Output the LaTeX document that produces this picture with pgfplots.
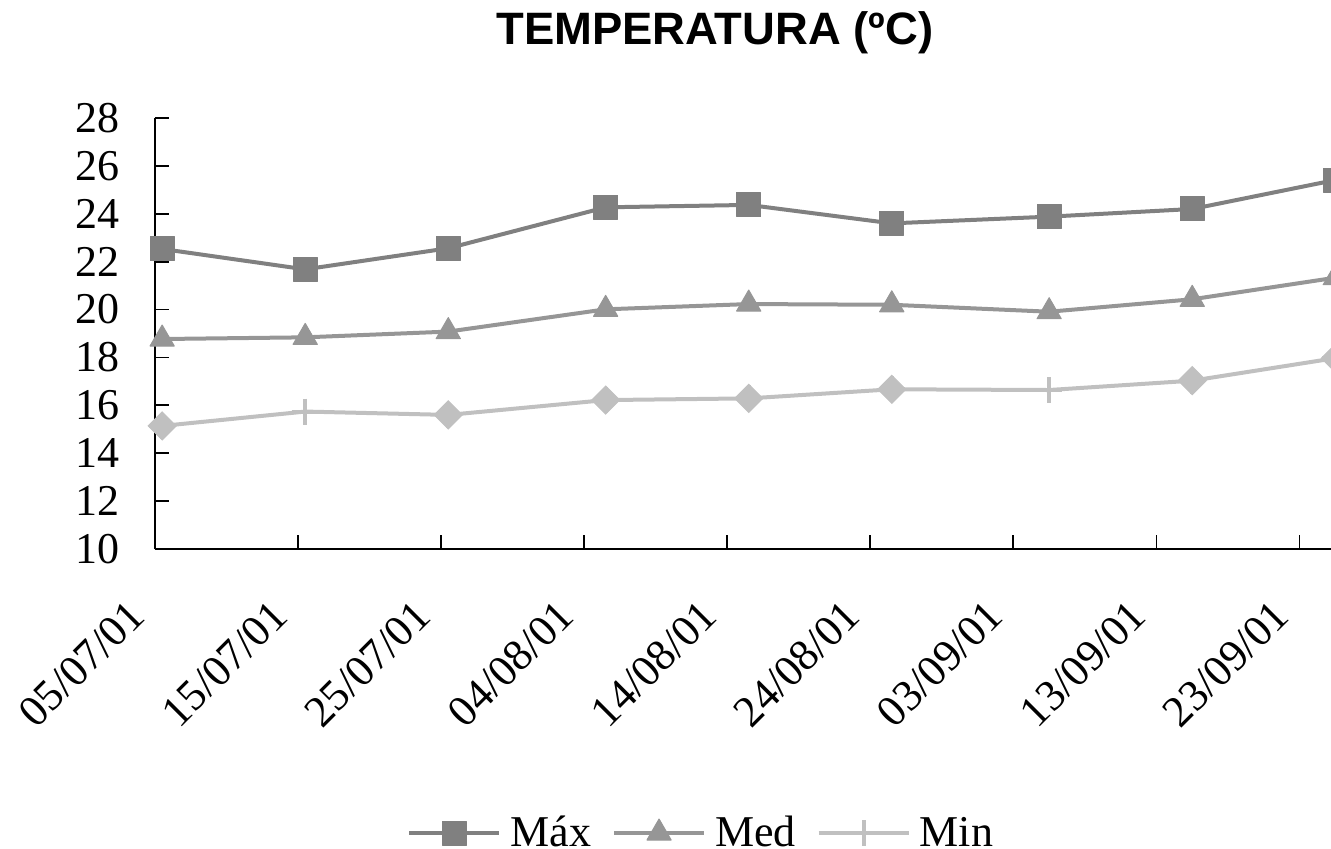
\documentclass[border=0pt]{standalone}
\usepackage{fontspec}
\setmainfont{Liberation Serif}
\newfontfamily\titlefont{Liberation Sans}
\usepackage{pgfplots}
\pgfplotsset{compat=1.18}
\definecolor{cmax}{RGB}{128,128,128}
\definecolor{cmed}{RGB}{150,150,150}
\definecolor{cmin}{RGB}{192,192,192}
\begin{document}
\begin{tikzpicture}
\begin{axis}[
  scale only axis,
  width=588pt, height=215.5pt,
  xmin=0, xmax=82.2, ymin=10, ymax=28,
  clip=false,
  axis x line=bottom, axis y line=left,
  axis line style={-, line width=1pt, black},
  tick align=inside,
  major tick length=7pt,
  tick style={line width=0.9pt, black},
  xtick={0,10,20,30,40,50,60,70,80},
  xticklabels={05/07/01,15/07/01,25/07/01,04/08/01,14/08/01,24/08/01,03/09/01,13/09/01,23/09/01},
  ytick={10,12,...,28},
  /pgf/number format/assume math mode=true,
  tick label style={font=\fontsize{22}{26}\selectfont},
  yticklabel style={inner sep=0pt, anchor=east, xshift=-17.5pt},
  xticklabel style={inner sep=0pt, xshift=-9pt, yshift=-29.5pt, rotate=45, anchor=east},
  title={TEMPERATURA (ºC)},
  title style={at={(0.476,1)}, anchor=base, yshift=31pt, font=\titlefont\bfseries\fontsize{22.7}{26}\selectfont},
  legend columns=3,
  legend style={at={(0.2143,0)}, anchor=west, yshift=-142pt, draw=none, fill=none, inner sep=0pt,
    font=\fontsize{22}{26}\selectfont, nodes={inner sep=0pt},
    /tikz/every odd column/.append style={column sep=4.5pt},
    /tikz/every even column/.append style={column sep=10.5pt}},
  legend image code/.code={\draw[mark repeat=2,mark phase=2,#1] plot coordinates {(0pt,0pt) (22.5pt,0pt) (45pt,0pt)};},
]
\coordinate (SW) at (rel axis cs:0,0);
\coordinate (NE) at (rel axis cs:1,1);
\addplot[color=cmax, line width=2pt, mark=square*, mark size=6pt, mark options={line width=0.5pt, line join=round, fill=cmax}]
  coordinates {(0.5,22.53) (10.5,21.68) (20.5,22.56) (31.5,24.27) (41.5,24.37) (51.5,23.6) (62.5,23.88) (72.5,24.2) (82.5,25.41)};
\addlegendentry{Máx}
\addplot[color=cmed, line width=2pt, mark=triangle*, mark size=7pt, mark options={line width=0.5pt, line join=round, fill=cmed}]
  coordinates {(0.5,18.77) (10.5,18.84) (20.5,19.08) (31.5,20.01) (41.5,20.23) (51.5,20.2) (62.5,19.91) (72.5,20.43) (82.5,21.33)};
\addlegendentry{Med}
\addplot[color=cmin, line width=2pt, mark=+, mark size=6.5pt, mark options={line width=2pt}]
  coordinates {(0.5,15.14) (10.5,15.74) (20.5,15.6) (31.5,16.22) (41.5,16.29) (51.5,16.67) (62.5,16.64) (72.5,17.03) (82.5,17.97)};
\addlegendentry{Min}
\addplot[forget plot, only marks, color=cmin, mark=square*, mark size=4.95pt, mark indices={1,3,4,5,6,8,9}, mark options={rotate=45, fill=cmin, line width=0.5pt}]
  coordinates {(0.5,15.14) (10.5,15.74) (20.5,15.6) (31.5,16.22) (41.5,16.29) (51.5,16.67) (62.5,16.64) (72.5,17.03) (82.5,17.97)};
\end{axis}
\pgfresetboundingbox
\useasboundingbox ([xshift=-77.5pt,yshift=-149.5pt]SW) rectangle ([yshift=59pt]NE);
\end{tikzpicture}
\end{document}
